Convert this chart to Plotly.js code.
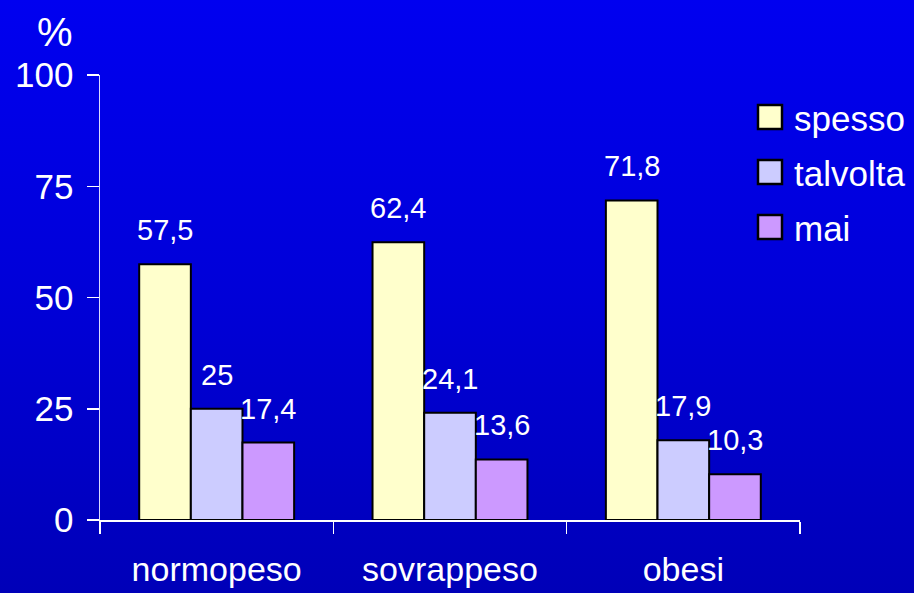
<!DOCTYPE html>
<html>
<head>
<meta charset="utf-8">
<script src="https://cdn.plot.ly/plotly-3.0.1.min.js"></script>
<style>
  html, body { margin: 0; padding: 0; width: 914px; height: 593px; overflow: hidden;
    background: linear-gradient(to bottom, #0000f0 0%, #0000d8 50%, #0000b8 100%); }
  #chart { width: 914px; height: 593px; }
</style>
</head>
<body>
<div id="chart"></div>
<script>
const categories = ["normopeso", "sovrappeso", "obesi"];
const seriesNames = ["spesso", "talvolta", "mai"];
const spesso = [57.5, 62.4, 71.8];
const talvolta = [25, 24.1, 17.9];
const mai = [17.4, 13.6, 10.3];
const yTicks = [0, 25, 50, 75, 100];

const seriesValues = [spesso, talvolta, mai];
const colors = ["#FFFFCC", "#CCCCFF", "#CC99FF"];
const FONT = "Arial, 'Liberation Sans', sans-serif";

const traces = seriesValues.map((vals, i) => ({
  type: "bar",
  name: seriesNames[i],
  x: categories,
  y: vals,
  marker: { color: colors[i], line: { color: "#000000", width: 2 } },
  hoverinfo: "none",
  showlegend: false
}));

// value labels above bars, positioned via data coords
const barShift = [-51.7, 0, 51.7];
const annotations = [];
seriesValues.forEach((vals, i) => {
  vals.forEach((v, j) => {
    annotations.push({
      x: categories[j], y: v, xref: "x", yref: "y",
      text: String(v).replace(".", ","),
      showarrow: false, xanchor: "center", yanchor: "bottom",
      xshift: barShift[i], yshift: 16,
      font: { family: FONT, size: 29, color: "#ffffff" }
    });
  });
});
annotations.push({
  x: 0, y: 1, xref: "paper", yref: "paper", xshift: -45, yshift: 43,
  text: "%", showarrow: false, xanchor: "center", yanchor: "middle",
  font: { family: FONT, size: 40, color: "#ffffff" }
});

// legend drawn as shapes + text (pixel offsets from plot's top-right corner)
const shapes = [];
seriesNames.forEach((name, i) => {
  const top = -30 - 55 * i;
  shapes.push({
    type: "rect", xref: "paper", yref: "paper",
    xsizemode: "pixel", ysizemode: "pixel", xanchor: 1, yanchor: 1,
    x0: -42, x1: -18, y0: top, y1: top - 24,
    fillcolor: colors[i], line: { color: "#000000", width: 2.5 }
  });
  annotations.push({
    x: 1, y: 1, xref: "paper", yref: "paper", xshift: -8, yshift: top - 13,
    text: name, showarrow: false, xanchor: "left", yanchor: "middle",
    font: { family: FONT, size: 35, color: "#ffffff" }
  });
});

const layout = {
  width: 914, height: 593,
  margin: { l: 100, r: 114, t: 75, b: 73 },
  paper_bgcolor: "rgba(0,0,0,0)",
  plot_bgcolor: "rgba(0,0,0,0)",
  barmode: "group",
  bargap: 0.336,
  bargroupgap: 0,
  showlegend: false,
  xaxis: {
    type: "category",
    showline: true, linecolor: "#ffffff", linewidth: 1.5,
    ticks: "outside", tickson: "boundaries", ticklen: 12, tickcolor: "#ffffff", tickwidth: 1.5,
    tickfont: { family: FONT, size: 34, color: "#ffffff" },
    ticklabelstandoff: 19,
    showgrid: false, zeroline: false, fixedrange: true
  },
  yaxis: {
    range: [0, 100],
    tickvals: yTicks,
    ticktext: yTicks.map(String),
    showline: true, linecolor: "#d8d8ff", linewidth: 1.5,
    ticks: "outside", ticklen: 12, tickcolor: "#ffffff", tickwidth: 1.5,
    tickfont: { family: FONT, size: 35, color: "#ffffff" },
    ticklabelstandoff: 6,
    showgrid: false, zeroline: false, fixedrange: true
  },
  shapes: shapes,
  annotations: annotations
};

Plotly.newPlot("chart", traces, layout, { displayModeBar: false, staticPlot: true });
</script>
</body>
</html>
